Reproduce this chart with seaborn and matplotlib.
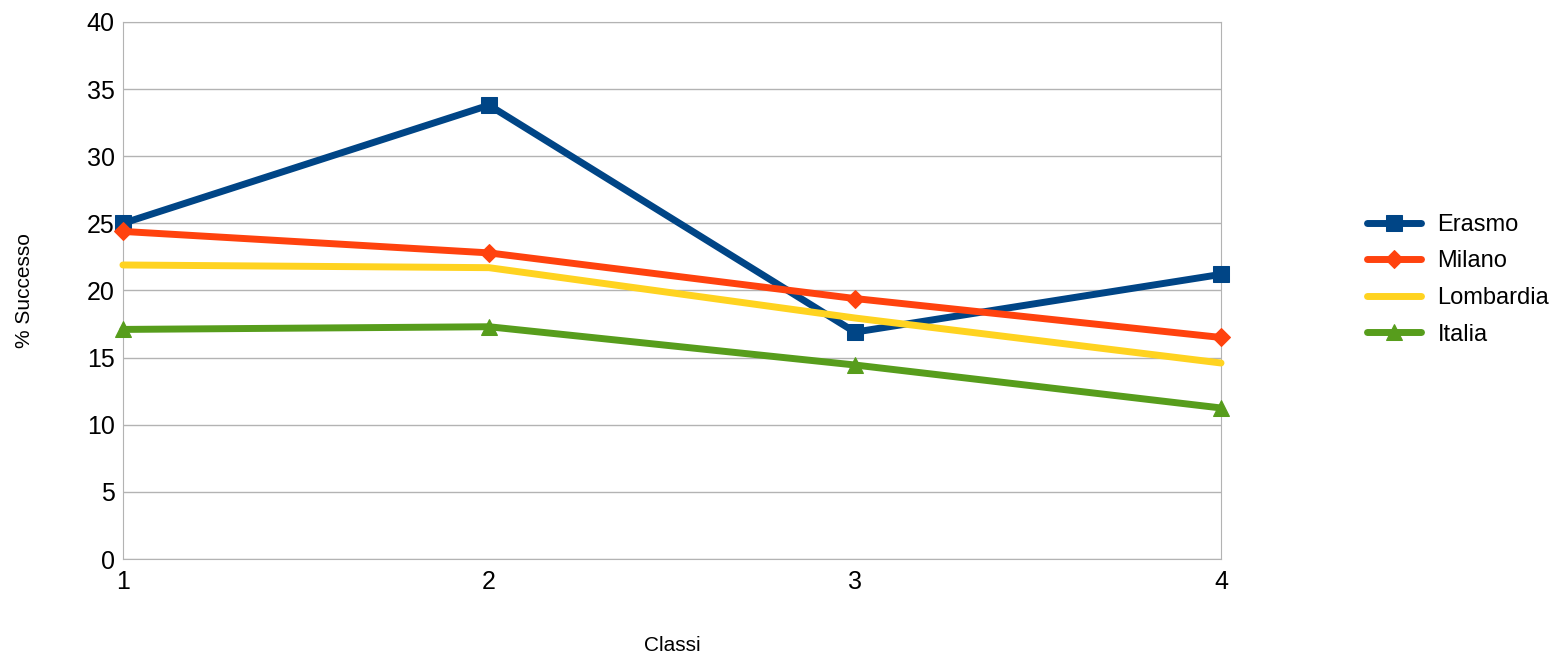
import matplotlib

matplotlib.use("Agg")
import matplotlib.pyplot as plt  # noqa: E402
import pandas as pd  # noqa: E402
import seaborn as sns  # noqa: E402

classi = [1, 2, 3, 4]
erasmo = [25.0, 33.8, 16.9, 21.2]
milano = [24.4, 22.8, 19.4, 16.5]
lombardia = [21.9, 21.7, 17.95, 14.6]
italia = [17.1, 17.3, 14.45, 11.25]

series = ["Erasmo", "Milano", "Lombardia", "Italia"]
colors = ["#004586", "#ff420e", "#ffd320", "#579d1c"]
markers = ["s", "D", None, "^"]
msizes = [12, 9, 0, 12]

df = pd.DataFrame({"Classi": classi, "Erasmo": erasmo, "Milano": milano,
                   "Lombardia": lombardia, "Italia": italia})
long = df.melt(id_vars="Classi", var_name="serie", value_name="val")

sns.set_style("white")
plt.rcParams["font.family"] = ["Liberation Sans", "DejaVu Sans"]
plt.rcParams["text.color"] = "black"
plt.rcParams["axes.labelcolor"] = "black"

fig = plt.figure(figsize=(15.62, 6.59), dpi=100)
ax = fig.add_axes([0.0787, 0.1517, 0.703, 0.815])

for name, c, m, ms in zip(series, colors, markers, msizes):
    sub = long[long["serie"] == name]
    sns.lineplot(data=sub, x="Classi", y="val", ax=ax, color=c, linewidth=5,
                 marker=m if m else "", markersize=ms, markeredgecolor=c,
                 label=name, zorder=3, clip_on=False)

ax.set_xlim(1, 4)
ax.set_ylim(0, 40)
ax.set_xticks(classi)
ax.set_yticks(range(0, 41, 5))
ax.grid(axis="y", color="#b3b3b3", linewidth=1)
ax.grid(axis="x", visible=False)
for s in ax.spines.values():
    s.set_color("#b3b3b3")
ax.tick_params(axis="both", labelsize=18, labelcolor="black", length=0, pad=6)
ax.tick_params(axis="x", length=6, color="#b3b3b3", direction="in", pad=8)
ax.set_xlabel("Classi", fontsize=15, labelpad=30)
ax.set_ylabel("% Successo", fontsize=15, labelpad=38)

leg = ax.legend(loc="center left", bbox_to_anchor=(1.124, 0.52), frameon=False,
                fontsize=17, handlelength=2.3, labelspacing=0.62,
                handletextpad=0.7, borderaxespad=0)

fig.savefig("out.png", dpi=100)
